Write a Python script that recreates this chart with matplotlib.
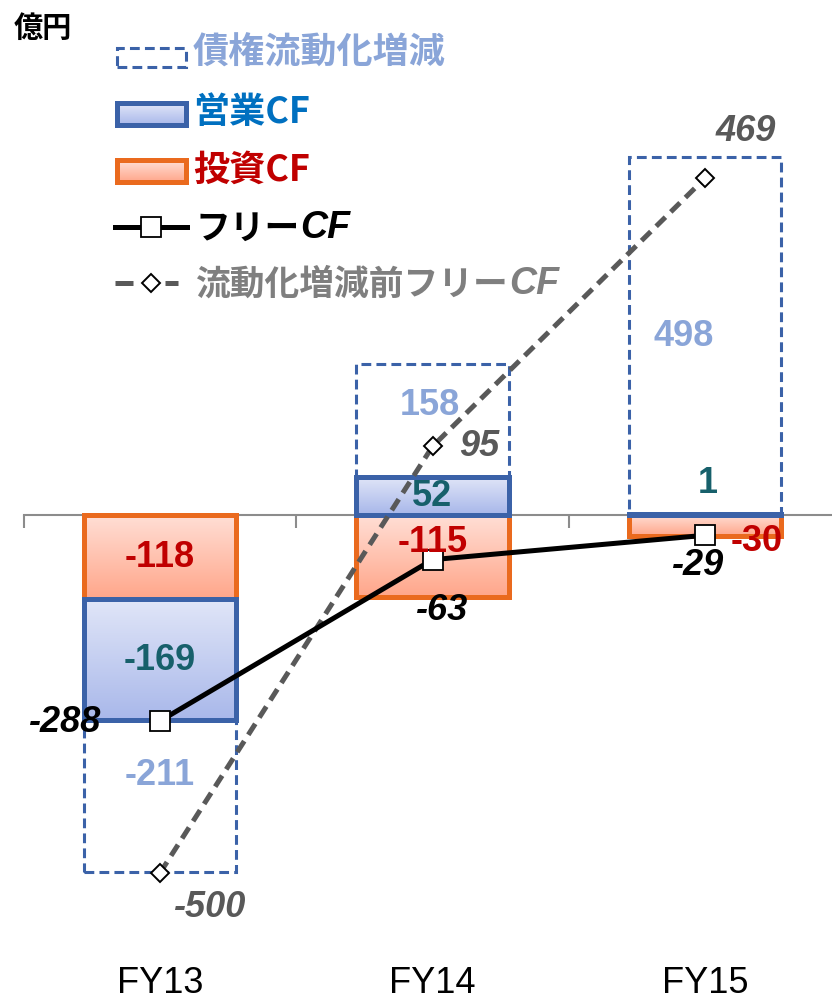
import matplotlib

matplotlib.use("Agg")
import matplotlib.pyplot as plt  # noqa: E402
import numpy as np  # noqa: E402
from matplotlib import font_manager  # noqa: E402
from matplotlib.colors import to_rgb  # noqa: E402
from matplotlib.patches import Rectangle  # noqa: E402

# ---- data (億円) ----
years = ["FY13", "FY14", "FY15"]
investing_cf = [-118, -115, -30]
operating_cf = [-169, 52, 1]
securitization = [-211, 158, 498]
free_cf = [-288, -63, -29]
free_cf_pre = [-500, 95, 469]

unit_label = "億円"
legend_labels = ["債権流動化増減", "営業CF", "投資CF", "フリーCF", "流動化増減前フリーCF"]

# ---- label anchors (x in category units, y in data units) ----
inv_label_pos = [(0.0, -59), (1.0, -38), (2.19, -36)]
op_label_pos = [(0.0, -202), (1.0, 26), (2.01, 45)]
sec_label_pos = [(0.0, -362), (0.99, 154), (1.92, 250)]
free_label_pos = [(-0.35, -289), (1.03, -132), (1.97, -70)]
pre_label_pos = [(0.18, -547), (1.17, 96), (2.15, 536)]

W, H = 832, 1004
ZERO_PX, PX_PER_UNIT = 515.5, 0.717
CAT0_PX, CAT_PX = 160, 272.5
BAR_W = 0.56

BLUE_EDGE = "#3B62A8"
ORANGE_EDGE = "#EA6A1E"
BLUE_GRAD = ("#E1E6F8", "#A9B8EA")
ORANGE_GRAD = ("#FFDFD6", "#FFA68A")
JP_FONT = ["Noto Sans CJK JP", "DejaVu Sans"]


def has_font(name):
    try:
        font_manager.findfont(font_manager.FontProperties(family=name), fallback_to_default=False)
        return True
    except ValueError:
        return False


# condensed digits like the original if the narrow face is around
if has_font("Liberation Sans Narrow"):
    NUM_FONT, NUM_SIZE = ["Liberation Sans Narrow", "Liberation Sans"], 29
else:
    NUM_FONT, NUM_SIZE = ["Liberation Sans", "DejaVu Sans"], 26
CAT_FONT = ["Liberation Sans", "DejaVu Sans"]


def xd(px):
    return (px - CAT0_PX) / CAT_PX


def yd(py):
    return (ZERO_PX - py) / PX_PER_UNIT


def gradient_box(ax, x0, x1, y_lo, y_hi, colors, edge, lw, z):
    top, bot = np.array(to_rgb(colors[0])), np.array(to_rgb(colors[1]))
    t = np.linspace(0, 1, 64)[:, None, None]
    img = top * (1 - t) + bot * t
    ax.imshow(img, extent=(x0, x1, y_lo, y_hi), origin="upper", aspect="auto",
              zorder=z, interpolation="bilinear", clip_on=False)
    ax.add_patch(Rectangle((x0, y_lo), x1 - x0, y_hi - y_lo, fill=False,
                           edgecolor=edge, linewidth=lw, zorder=z + 0.1, clip_on=False))


def dashed_box(ax, x0, x1, y_lo, y_hi, z):
    ax.add_patch(Rectangle((x0, y_lo), x1 - x0, y_hi - y_lo, fill=False,
                           edgecolor=BLUE_EDGE, linewidth=2.2, linestyle=(0, (3.2, 1.7)),
                           zorder=z, clip_on=False))


fig = plt.figure(figsize=(W / 100, H / 100), dpi=100)
ax = fig.add_axes([0, 0, 1, 1])
ax.set_facecolor("none")

x = np.arange(len(years))

# category axis (ticks sit on the category boundaries)
for spine in ("top", "right", "left"):
    ax.spines[spine].set_visible(False)
ax.spines["bottom"].set_position(("data", 0))
ax.spines["bottom"].set_bounds(-0.5, 2.6)
ax.spines["bottom"].set_color("#8C8C8C")
ax.spines["bottom"].set_linewidth(1.5)
ax.spines["bottom"].set_zorder(1)
ax.set_xticks([-0.5, 0.5, 1.5, 2.5])
ax.set_xticklabels([])
ax.tick_params(axis="x", direction="out", length=9, width=1.5, color="#8C8C8C")
ax.set_yticks([])

# stacked segments: investing, operating, securitization
pos_run = np.zeros(len(years))
neg_run = np.zeros(len(years))
segments = []
for series in (investing_cf, operating_cf, securitization):
    vals = np.array(series, dtype=float)
    bottoms = np.where(vals >= 0, pos_run, neg_run)
    segments.append((vals, bottoms))
    pos_run = pos_run + np.where(vals >= 0, vals, 0)
    neg_run = neg_run + np.where(vals < 0, vals, 0)

(inv_v, inv_b), (op_v, op_b), (sec_v, sec_b) = segments
for i in range(len(years)):
    x0, x1 = x[i] - BAR_W / 2, x[i] + BAR_W / 2
    lo, hi = sorted((inv_b[i], inv_b[i] + inv_v[i]))
    gradient_box(ax, x0, x1, lo, hi, ORANGE_GRAD, ORANGE_EDGE, 3.6, 2)
    lo, hi = sorted((op_b[i], op_b[i] + op_v[i]))
    gradient_box(ax, x0, x1, lo, hi, BLUE_GRAD, BLUE_EDGE, 3.6, 2.5)
    lo, hi = sorted((sec_b[i], sec_b[i] + sec_v[i]))
    dashed_box(ax, x0, x1, lo, hi, 2.4)

# lines
ax.plot(x, free_cf_pre, color="#595959", linewidth=3.6, linestyle=(0, (2.6, 1.5)),
        marker="D", markersize=9, markerfacecolor="white", markeredgecolor="black",
        markeredgewidth=1.4, zorder=4)
ax.plot(x, free_cf, color="black", linewidth=3.6, marker="s", markersize=14,
        markerfacecolor="white", markeredgecolor="black", markeredgewidth=1.3, zorder=5)

ax.set_xlim(xd(0), xd(W))
ax.set_ylim(yd(H), yd(0))

# value labels
num_kw = dict(ha="center", va="center", fontsize=NUM_SIZE, fontweight="bold",
              family=NUM_FONT, zorder=6)
for (px, py), v in zip(inv_label_pos, investing_cf):
    ax.text(px, py, f"{v}", color="#C00000", **num_kw)
for (px, py), v in zip(op_label_pos, operating_cf):
    ax.text(px, py, f"{v}", color="#17606B", **num_kw)
for (px, py), v in zip(sec_label_pos, securitization):
    ax.text(px, py, f"{v}", color="#8AA5D8", **num_kw)
for (px, py), v in zip(free_label_pos, free_cf):
    ax.text(px, py, f"{v}", color="black", style="italic", **num_kw)
for (px, py), v in zip(pre_label_pos, free_cf_pre):
    ax.text(px, py, f"{v}", color="#595959", style="italic", **num_kw)

for i, name in enumerate(years):
    ax.text(x[i], yd(984), name, ha="center", va="center", fontsize=26,
            family=CAT_FONT, color="black")

# unit
ax.text(xd(14), yd(28), unit_label, ha="left", va="center", fontsize=21,
        fontweight="bold", family=JP_FONT, color="black")

# legend (drawn at the original's pixel positions)
lx0, lx1 = xd(117), xd(186)
dashed_box(ax, lx0, lx1, yd(68), yd(49), 6)
gradient_box(ax, lx0, lx1, yd(126), yd(104), BLUE_GRAD, BLUE_EDGE, 3.6, 6)
gradient_box(ax, lx0, lx1, yd(183), yd(161), ORANGE_GRAD, ORANGE_EDGE, 3.6, 6)
ax.plot([xd(115), xd(187)], [yd(228)] * 2, color="black", linewidth=3.6, zorder=6, clip_on=False)
ax.plot([xd(151)], [yd(228)], marker="s", markersize=14, markerfacecolor="white",
        markeredgecolor="black", markeredgewidth=1.3, zorder=7, clip_on=False)
ax.plot([xd(115), xd(133)], [yd(284)] * 2, color="#595959", linewidth=3.6, zorder=6,
        solid_capstyle="butt", clip_on=False)
ax.plot([xd(165), xd(178)], [yd(284)] * 2, color="#595959", linewidth=3.6, zorder=6,
        solid_capstyle="butt", clip_on=False)
ax.plot([xd(151)], [yd(284)], marker="D", markersize=9, markerfacecolor="white",
        markeredgecolor="black", markeredgewidth=1.4, zorder=7, clip_on=False)

ax.set_xlim(xd(0), xd(W))
ax.set_ylim(yd(H), yd(0))

leg_y = [53, 113, 170, 228, 284]
leg_colors = ["#8AA5D8", "#0070C0", "#C00000", "black", "#7F7F7F"]
leg_italic = [False, False, False, True, True]
renderer = fig.canvas.get_renderer()
for label, py, c, it in zip(legend_labels, leg_y, leg_colors, leg_italic):
    if not it:
        ax.text(xd(193), yd(py), label, ha="left", va="center", fontsize=26,
                fontweight="bold", family=JP_FONT, color=c, zorder=7)
        continue
    # japanese part upright (no italic CJK face), trailing "CF" in italic latin
    head, tail = label[:-2], label[-2:]
    t = ax.text(xd(195), yd(py), head, ha="left", va="center", fontsize=25,
                fontweight="bold", family=JP_FONT, color=c, zorder=7)
    right_px = t.get_window_extent(renderer).x1
    ax.text(xd(right_px + 1), yd(py), tail, ha="left", va="center", fontsize=27,
            fontweight="bold", style="italic", family=CAT_FONT, color=c, zorder=7)

fig.savefig("out.png", dpi=100)
